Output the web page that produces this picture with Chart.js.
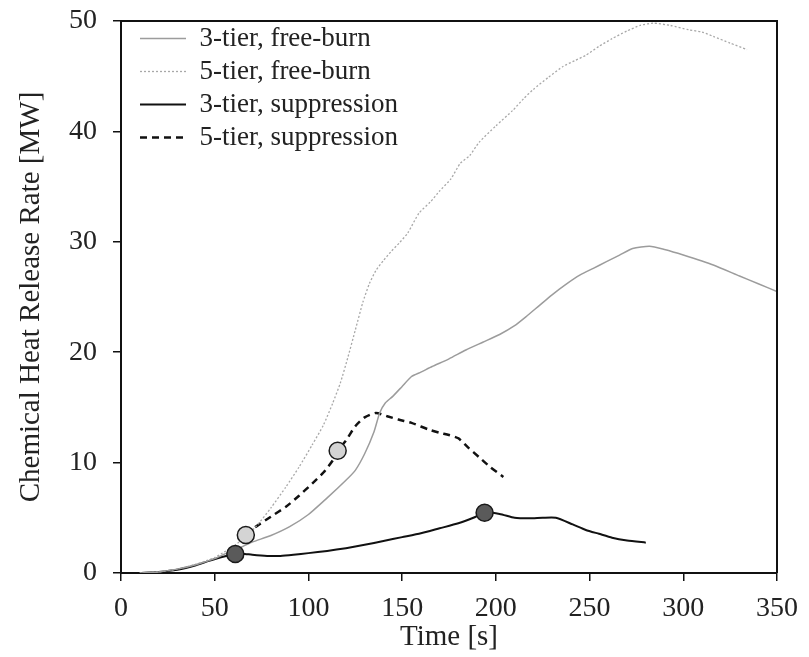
<!DOCTYPE html>
<html>
<head>
<meta charset="utf-8">
<script src="https://cdn.jsdelivr.net/npm/chart.js@4.4.1/dist/chart.umd.min.js"></script>
<style>
  body { margin: 0; background: #fff; }
</style>
</head>
<body>
<canvas id="hrrChart" width="809" height="657"></canvas>
<script>
// values: time [s] and chemical HRR [MW]
const freeBurn3Time = [10, 20, 30, 40, 50, 55, 60, 65, 70, 80, 90, 100, 110, 120, 125, 130, 135, 138, 141, 145, 150, 155, 160, 166, 175, 184, 193, 202, 210, 216, 223, 230, 237, 245, 252, 259, 266, 273, 282, 290, 300, 316, 330, 340, 350];
const freeBurn3Hrr = [0.0, 0.1, 0.35, 0.75, 1.3, 1.7, 2.1, 2.4, 2.8, 3.4, 4.2, 5.3, 6.8, 8.4, 9.3, 10.8, 12.8, 14.5, 15.4, 16.0, 16.9, 17.8, 18.2, 18.7, 19.4, 20.2, 20.9, 21.6, 22.4, 23.2, 24.2, 25.2, 26.1, 27.0, 27.6, 28.2, 28.8, 29.4, 29.6, 29.3, 28.8, 27.9, 26.9, 26.2, 25.5];

const freeBurn5Time = [10, 20, 30, 40, 50, 55, 60, 65, 72, 80, 88, 95, 102, 108, 113, 117, 121, 125, 129, 132.5, 136, 140, 144, 148.5, 153, 159, 165, 170, 176, 181, 186, 191, 200, 209, 215, 220, 228, 236, 242, 248, 255, 262, 270, 277, 284, 293, 303, 310, 316, 325, 334];
const freeBurn5Hrr = [0.0, 0.1, 0.35, 0.8, 1.4, 1.9, 2.4, 3.1, 4.2, 5.9, 7.8, 9.6, 11.6, 13.4, 15.4, 17.2, 19.5, 22.0, 24.5, 26.2, 27.4, 28.3, 29.1, 29.9, 30.8, 32.6, 33.6, 34.6, 35.7, 37.1, 37.8, 39.0, 40.5, 41.9, 43.0, 43.8, 44.9, 45.9, 46.4, 46.9, 47.7, 48.4, 49.1, 49.6, 49.8, 49.6, 49.2, 49.0, 48.6, 48.0, 47.4];

const supp3Time = [10, 20, 30, 40, 47, 55, 61, 65, 70, 78, 85, 92, 100, 110, 120, 130, 140, 150, 160, 170, 180, 188, 194, 202, 210, 218, 225, 232, 241, 248, 255, 262, 270, 280];
const supp3Hrr = [0.0, 0.1, 0.3, 0.7, 1.1, 1.5, 1.72, 1.75, 1.65, 1.55, 1.55, 1.65, 1.8, 2.0, 2.25, 2.55, 2.9, 3.25, 3.6, 4.05, 4.5, 5.0, 5.46, 5.35, 5.0, 4.95, 5.0, 5.0, 4.4, 3.9, 3.55, 3.2, 2.95, 2.75];

const supp5Time = [66.6, 72, 80, 88, 95, 102, 108, 113, 115.6, 120, 125, 130, 136, 142, 148, 155, 164, 170, 175, 180, 185, 191, 197, 204];
const supp5Hrr = [3.44, 4.2, 5.1, 6.0, 7.0, 8.1, 9.1, 10.2, 11.08, 12.0, 13.3, 14.1, 14.5, 14.2, 13.9, 13.6, 13.0, 12.7, 12.5, 12.2, 11.4, 10.5, 9.6, 8.7];

// circle markers on the suppression curves
const mark3Time = [61, 194];
const mark3Hrr = [1.72, 5.46];
const mark5Time = [66.6, 115.6];
const mark5Hrr = [3.44, 11.08];

const seriesLabels = ["3-tier, free-burn", "5-tier, free-burn", "3-tier, suppression", "5-tier, suppression"];

function toPoints(xs, ys) {
  return xs.map((x, i) => ({ x: x, y: ys[i] }));
}

Chart.defaults.font.family = "'Liberation Serif', 'Times New Roman', serif";
Chart.defaults.color = "#222";

// draw the top and right sides of the box
const framePlugin = {
  id: "frame",
  afterDraw(chart) {
    const { ctx, chartArea: a } = chart;
    ctx.save();
    ctx.strokeStyle = "#111";
    ctx.lineWidth = 2;
    ctx.beginPath();
    ctx.moveTo(a.left, a.top);
    ctx.lineTo(a.right, a.top);
    ctx.lineTo(a.right, a.bottom);
    ctx.stroke();
    ctx.restore();
  },
};

// put the legend inside the plot, a little in from the left axis
const legendSpot = {
  id: "legendSpot",
  afterLayout(chart) {
    const lg = chart.legend;
    const a = chart.chartArea;
    const w = lg.width;
    const h = lg.height;
    lg.left = a.left + 13;
    lg.top = a.top - 2;
    lg.right = lg.left + w;
    lg.bottom = lg.top + h;
  },
};

const ctx = document.getElementById("hrrChart").getContext("2d");

new Chart(ctx, {
  type: "line",
  data: {
    datasets: [
      {
        label: "m3",
        data: toPoints(mark3Time, mark3Hrr),
        showLine: false,
        pointRadius: 8.5,
        pointBackgroundColor: "#5a5a5a",
        pointBorderColor: "#1a1a1a",
        pointBorderWidth: 1.5,
        order: 0,
      },
      {
        label: "m5",
        data: toPoints(mark5Time, mark5Hrr),
        showLine: false,
        pointRadius: 8.5,
        pointBackgroundColor: "#d4d4d4",
        pointBorderColor: "#1a1a1a",
        pointBorderWidth: 1.5,
        order: 0,
      },
      {
        label: seriesLabels[0],
        data: toPoints(freeBurn3Time, freeBurn3Hrr),
        borderColor: "#9c9c9c",
        borderWidth: 1.5,
        pointRadius: 0,
        tension: 0.2,
        order: 1,
      },
      {
        label: seriesLabels[1],
        data: toPoints(freeBurn5Time, freeBurn5Hrr),
        borderColor: "#a8a8a8",
        borderWidth: 1.3,
        borderDash: [2, 2],
        pointRadius: 0,
        tension: 0.2,
        order: 1,
      },
      {
        label: seriesLabels[2],
        data: toPoints(supp3Time, supp3Hrr),
        borderColor: "#111",
        borderWidth: 2,
        pointRadius: 0,
        tension: 0.2,
        order: 1,
      },
      {
        label: seriesLabels[3],
        data: toPoints(supp5Time, supp5Hrr),
        borderColor: "#111",
        borderWidth: 2.5,
        borderDash: [7, 5],
        pointRadius: 0,
        tension: 0.2,
        order: 1,
      },
    ],
  },
  options: {
    responsive: false,
    animation: false,
    devicePixelRatio: 1,
    layout: { padding: { left: 0, top: 21, right: 32, bottom: 0 } },
    plugins: {
      tooltip: { enabled: false },
      legend: {
        position: "chartArea",
        align: "start",
        labels: {
          font: { size: 27 },
          color: "#222",
          padding: 6,
          usePointStyle: true,
          pointStyle: "line",
          pointStyleWidth: 46,
          boxHeight: 10,
          filter: (item) => seriesLabels.includes(item.text),
          generateLabels(chart) {
            return chart.data.datasets.map((ds, i) => ({
              text: ds.label,
              strokeStyle: ds.borderColor,
              fillStyle: ds.borderColor,
              lineWidth: ds.borderWidth,
              lineDash: ds.borderDash || [],
              pointStyle: "line",
              fontColor: "#222",
              datasetIndex: i,
            }));
          },
        },
      },
    },
    scales: {
      x: {
        type: "linear",
        min: 0,
        max: 350,
        afterFit(scale) { scale.height = 84; },
        ticks: { stepSize: 50, font: { size: 28 }, color: "#222", padding: 11, maxRotation: 0 },
        grid: { drawOnChartArea: false, drawTicks: true, tickLength: 8, color: "#111", lineWidth: 1.5 },
        border: { display: true, color: "#111", width: 2 },
        title: { display: true, text: "Time [s]", font: { size: 29 }, color: "#222", padding: { top: 0, bottom: 2 } },
      },
      y: {
        min: 0,
        max: 50,
        afterFit(scale) {
          scale.width = 121;
          scale.paddingTop = 0;
        },
        ticks: { stepSize: 10, font: { size: 28 }, color: "#222", padding: 16 },
        grid: { drawOnChartArea: false, drawTicks: true, tickLength: 8, color: "#111", lineWidth: 1.5 },
        border: { display: true, color: "#111", width: 2 },
        title: { display: true, text: "Chemical Heat Release Rate [MW]", font: { size: 29 }, color: "#222", padding: { top: 14, bottom: 0 } },
      },
    },
  },
  plugins: [framePlugin, legendSpot],
});
</script>
</body>
</html>
